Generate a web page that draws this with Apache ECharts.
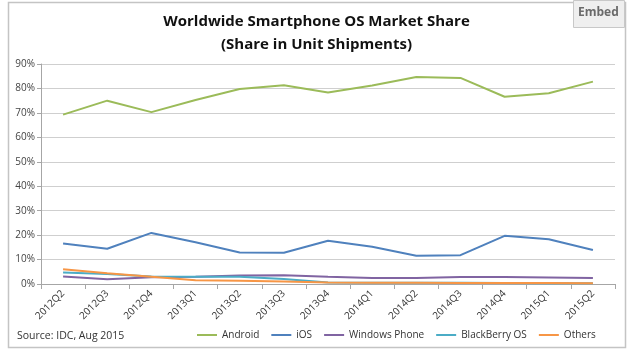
<!DOCTYPE html>
<html>
<head>
<meta charset="utf-8">
<script src="https://cdn.jsdelivr.net/npm/echarts@6/dist/echarts.min.js"></script>
<style>
  html, body { margin: 0; padding: 0; background: #fff; }
  #chart { width: 633px; height: 350px; }
</style>
</head>
<body>
<div id="chart"></div>
<script>
const quarters = ["2012Q2", "2012Q3", "2012Q4", "2013Q1", "2013Q2", "2013Q3", "2013Q4",
  "2014Q1", "2014Q2", "2014Q3", "2014Q4", "2015Q1", "2015Q2"];
const android = [69.3, 75.0, 70.3, 75.3, 79.8, 81.3, 78.3, 81.2, 84.7, 84.3, 76.6, 78.0, 82.8];
const ios = [16.6, 14.4, 20.9, 17.1, 12.9, 12.8, 17.7, 15.2, 11.6, 11.8, 19.7, 18.3, 13.9];
const windowsPhone = [3.1, 1.9, 2.8, 3.0, 3.5, 3.6, 3.0, 2.5, 2.5, 2.9, 2.9, 2.7, 2.5];
const blackberry = [4.7, 4.1, 3.1, 3.0, 3.0, 2.0, 0.6, 0.5, 0.5, 0.5, 0.4, 0.3, 0.3];
const others = [6.0, 4.4, 3.0, 1.5, 1.3, 1.0, 0.6, 0.5, 0.5, 0.4, 0.4, 0.4, 0.3];
const yTicks = [0, 10, 20, 30, 40, 50, 60, 70, 80, 90];

const seriesList = [
  { name: "Android", data: android, color: "#9bbb59" },
  { name: "iOS", data: ios, color: "#4f81bd" },
  { name: "Windows Phone", data: windowsPhone, color: "#8064a2" },
  { name: "BlackBerry OS", data: blackberry, color: "#4bacc6" },
  { name: "Others", data: others, color: "#f79646" },
];

const font = "'Open Sans', 'Noto Sans', sans-serif";
const chart = echarts.init(document.getElementById("chart"));

chart.setOption({
  animation: false,
  title: {
    text: "Worldwide Smartphone OS Market Share\n(Share in Unit Shipments)",
    left: "center",
    top: 5,
    textStyle: {
      fontFamily: font,
      fontSize: 15,
      fontWeight: "bold",
      color: "#111",
      lineHeight: 23,
    },
  },
  legend: {
    top: 330,
    left: 197,
    right: 5,
    orient: "horizontal",
    itemWidth: 20,
    itemHeight: 2,
    itemGap: 12,
    icon: "rect",
    padding: 0,
    textStyle: { fontFamily: font, fontSize: 10, color: "#333" },
    data: seriesList.map((s) => s.name),
  },
  grid: { left: 41, right: 18, top: 64, bottom: 66 },
  xAxis: {
    type: "category",
    data: quarters,
    boundaryGap: true,
    axisLine: { lineStyle: { color: "#a6a6a6" } },
    axisTick: { show: true, length: 5, lineStyle: { color: "#a6a6a6" } },
    axisLabel: {
      rotate: 45,
      interval: 0,
      fontFamily: font,
      fontSize: 10,
      color: "#333",
      margin: 8,
    },
  },
  yAxis: {
    type: "value",
    min: 0,
    max: yTicks[yTicks.length - 1],
    interval: 10,
    axisLine: { show: true, lineStyle: { color: "#a6a6a6" } },
    axisTick: { show: true, length: 4, lineStyle: { color: "#a6a6a6" } },
    splitLine: { lineStyle: { color: "#cfcfcf" } },
    axisLabel: {
      formatter: "{value}%",
      fontFamily: font,
      fontSize: 10,
      color: "#444",
      margin: 6,
    },
  },
  series: seriesList.map((s) => ({
    name: s.name,
    type: "line",
    data: s.data,
    symbol: "none",
    lineStyle: { width: 2, color: s.color },
    itemStyle: { color: s.color },
  })),
  graphic: [
    {
      type: "rect",
      shape: { x: 8.5, y: 2.5, width: 617, height: 345 },
      style: { fill: "none", stroke: "#c4c4c4", lineWidth: 1.5 },
      z: -1,
    },
    {
      type: "rect",
      shape: { x: 573.5, y: 0.5, width: 51, height: 27 },
      style: { fill: "#efefef", stroke: "#c8c8c8", lineWidth: 1 },
    },
    {
      type: "text",
      left: 578,
      top: 7,
      style: {
        text: "Embed",
        fontFamily: font,
        fontSize: 12,
        fontWeight: "bold",
        fill: "#6a6a6a",
      },
    },
    {
      type: "text",
      left: 17,
      top: 331,
      style: {
        text: "Source: IDC, Aug 2015",
        fontFamily: font,
        fontSize: 10.5,
        fill: "#333",
      },
    },
  ],
});
</script>
</body>
</html>
